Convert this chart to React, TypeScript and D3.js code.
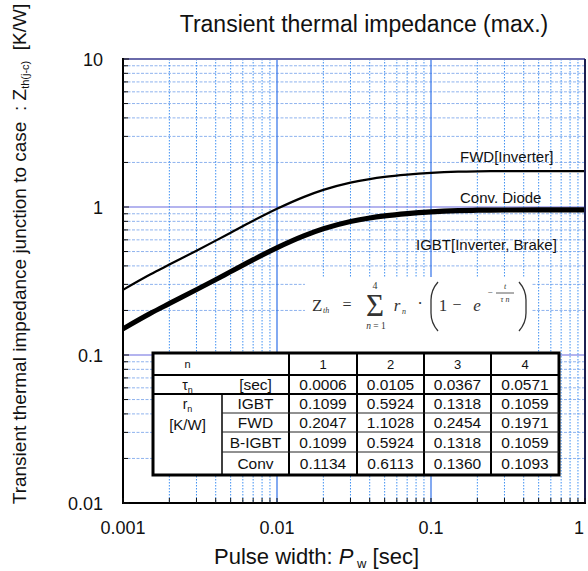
import React from 'react';
import * as d3 from 'd3';

const pulseWidths = [0.001, 0.0015, 0.002, 0.003, 0.004, 0.005, 0.007, 0.01, 0.015, 0.02, 0.03, 0.04, 0.05, 0.07, 0.1, 0.15, 0.2, 0.3, 0.5, 1];
const zthIGBT = [0.148, 0.1878, 0.2193, 0.2722, 0.3183, 0.36, 0.4333, 0.5221, 0.629, 0.7008, 0.7852, 0.83, 0.857, 0.8885, 0.913, 0.9301, 0.9362, 0.9394, 0.94, 0.94];
const zthFWD = [0.2756, 0.3497, 0.4083, 0.5068, 0.5927, 0.6703, 0.8068, 0.9721, 1.171, 1.305, 1.462, 1.545, 1.596, 1.654, 1.7, 1.732, 1.743, 1.749, 1.75, 1.75];
const zthConv = [0.1527, 0.1938, 0.2263, 0.2809, 0.3284, 0.3714, 0.4471, 0.5387, 0.649, 0.7231, 0.8102, 0.8564, 0.8843, 0.9168, 0.942, 0.9597, 0.966, 0.9693, 0.97, 0.97];

const xTickValues = [0.001, 0.01, 0.1, 1];
const xTickLabels = ['0.001', '0.01', '0.1', '1'];
const yTickValues = [0.01, 0.1, 1, 10];
const yTickLabels = ['0.01', '0.1', '1', '10'];

const tableColumns = ['1', '2', '3', '4'];
const tauN = ['0.0006', '0.0105', '0.0367', '0.0571'];
const rowNames = ['IGBT', 'FWD', 'B-IGBT', 'Conv'];
const rIGBT = ['0.1099', '0.5924', '0.1318', '0.1059'];
const rFWD = ['0.2047', '1.1028', '0.2454', '0.1971'];
const rBIGBT = ['0.1099', '0.5924', '0.1318', '0.1059'];
const rConv = ['0.1134', '0.6113', '0.1360', '0.1093'];

const SANS = "'Liberation Sans', Arial, sans-serif";
const SERIF = "'Liberation Serif', 'Times New Roman', serif";

export default function App() {
  const W = 588, H = 571;
  const L = 123, R = 585, T = 59, B = 503;
  const x = d3.scaleLog().domain([0.001, 1]).range([L, R]);
  const y = d3.scaleLog().domain([0.01, 10]).range([B, T]);
  const xt = x.ticks();
  const yt = y.ticks();
  const isDecade = (v: number) => Math.abs(Math.log10(v) - Math.round(Math.log10(v))) < 1e-6;

  const line = d3.line<number>()
    .x((_, i) => x(pulseWidths[i]))
    .y((d) => y(d))
    .curve(d3.curveMonotoneX);

  const colX = [153, 222, 289, 357, 424, 491, 559];
  const rowY = [353, 375, 394, 413, 432, 452, 475];
  const rows = [rIGBT, rFWD, rBIGBT, rConv];
  const cx = (i: number) => (colX[i] + colX[i + 1]) / 2;
  const cy = (i: number) => (rowY[i] + rowY[i + 1]) / 2;

  return (
    <svg width={W} height={H} style={{ position: 'absolute', left: 0, top: 0, background: '#fff' }}>
      <rect x={0} y={0} width={W} height={H} fill="#fff" />
      {/* horizontal grid */}
      {yt.filter((v) => !isDecade(v)).map((v, i) => (
        <line key={'hy' + i} x1={L} x2={R} y1={y(v)} y2={y(v)} stroke="#8fb3ee" strokeWidth={1} strokeDasharray="3 1.5" />
      ))}
      {[0.1, 1].map((v, i) => (
        <line key={'hM' + i} x1={L} x2={R} y1={y(v)} y2={y(v)} stroke="#6b6be0" strokeWidth={1.2} />
      ))}
      {/* vertical grid */}
      {xt.filter((v) => !isDecade(v)).map((v, i) => (
        <line key={'vx' + i} x1={x(v)} x2={x(v)} y1={T} y2={B} stroke="#3f90f2" strokeWidth={1} strokeDasharray="1.5 1.5" />
      ))}
      {[0.01, 0.1].map((v, i) => (
        <line key={'vM' + i} x1={x(v)} x2={x(v)} y1={T} y2={B} stroke="#3070e8" strokeWidth={1.2} />
      ))}

      {/* formula box */}
      <rect x={305} y={277} width={226} height={76} fill="#fff" />
      <g fontFamily={SERIF} fill="#333">
        <text x={312} y={311} fontSize={17}>Z</text>
        <text x={323} y={313} fontSize={8} fontStyle="italic">th</text>
        <text x={347} y={310} fontSize={16} textAnchor="middle">=</text>
        <text x={375} y={316} fontSize={31} textAnchor="middle">Σ</text>
        <text x={375} y={289} fontSize={10} textAnchor="middle">4</text>
        <text x={376} y={329} fontSize={9.5} textAnchor="middle"><tspan fontStyle="italic">n</tspan> = 1</text>
        <text x={397} y={311} fontSize={17} fontStyle="italic" textAnchor="middle">r</text>
        <text x={402} y={314} fontSize={8} fontStyle="italic">n</text>
        <text x={420} y={309} fontSize={17} textAnchor="middle">·</text>
        <path d="M438,282 Q431,290 431,300 L431,313 Q431,323 438,331" fill="none" stroke="#333" strokeWidth={1.3} />
        <path d="M519,282 Q526,290 526,300 L526,313 Q526,323 519,331" fill="none" stroke="#333" strokeWidth={1.3} />
        <text x={443} y={311} fontSize={17} textAnchor="middle">1</text>
        <text x={457} y={310} fontSize={16} textAnchor="middle">−</text>
        <text x={477} y={311} fontSize={17} fontStyle="italic" textAnchor="middle">e</text>
        <text x={490} y={295} fontSize={9} textAnchor="middle">−</text>
        <text x={505} y={289} fontSize={8} fontStyle="italic" textAnchor="middle">t</text>
        <line x1={496} x2={514} y1={293} y2={293} stroke="#333" strokeWidth={0.8} />
        <text x={505} y={302} fontSize={8} fontStyle="italic" textAnchor="middle">τ  n</text>
      </g>

      {/* table */}
      <g fontFamily={SANS} fill="#111">
        <rect x={colX[0]} y={rowY[0]} width={colX[6] - colX[0]} height={rowY[6] - rowY[0]} fill="#fff" stroke="#000" strokeWidth={3} />
        <line x1={colX[1]} x2={colX[1]} y1={rowY[2]} y2={rowY[6]} stroke="#000" strokeWidth={1.5} />
        {[2, 3, 4, 5].map((c) => (
          <line key={'tc' + c} x1={colX[c]} x2={colX[c]} y1={rowY[0]} y2={rowY[6]} stroke="#000" strokeWidth={2} />
        ))}
        {[1, 2].map((r) => (
          <line key={'tr' + r} x1={colX[0]} x2={colX[6]} y1={rowY[r]} y2={rowY[r]} stroke="#000" strokeWidth={2} />
        ))}
        {[3, 4, 5].map((r) => (
          <line key={'ts' + r} x1={colX[1]} x2={colX[6]} y1={rowY[r]} y2={rowY[r]} stroke="#222" strokeWidth={1} />
        ))}
        <text x={cx(0)} y={cy(0) + 4} fontSize={11} textAnchor="middle">n</text>
        {tableColumns.map((c, i) => (
          <text key={'hc' + i} x={cx(i + 2)} y={cy(0) + 5} fontSize={13} textAnchor="middle">{c}</text>
        ))}
        <text x={cx(0)} y={cy(1) + 5} fontSize={14} textAnchor="middle">τ<tspan fontSize={9} dy={3}>n</tspan></text>
        <text x={cx(1)} y={cy(1) + 5.5} fontSize={15.5} textAnchor="middle">[sec]</text>
        {tauN.map((v, i) => (
          <text key={'tau' + i} x={cx(i + 2)} y={cy(1) + 5.5} fontSize={15.5} textAnchor="middle">{v}</text>
        ))}
        <text x={cx(0)} y={409} fontSize={14} textAnchor="middle">r<tspan fontSize={9} dy={3}>n</tspan></text>
        <text x={cx(0)} y={430} fontSize={15} textAnchor="middle">[K/W]</text>
        {rows.map((vals, r) => (
          <g key={'row' + r}>
            <text x={cx(1)} y={cy(r + 2) + 5.5} fontSize={15.5} textAnchor="middle">{rowNames[r]}</text>
            {vals.map((v, i) => (
              <text key={i} x={cx(i + 2)} y={cy(r + 2) + 5.5} fontSize={15.5} textAnchor="middle">{v}</text>
            ))}
          </g>
        ))}
      </g>

      {/* curves */}
      <path d={line(zthFWD) || ''} fill="none" stroke="#000" strokeWidth={2.2} />
      <path d={line(zthIGBT) || ''} fill="none" stroke="#000" strokeWidth={3.2} />
      <path d={line(zthConv) || ''} fill="none" stroke="#000" strokeWidth={3.2} />

      {/* curve labels */}
      <g fontFamily={SANS} fontSize={15} fill="#111">
        <text x={460} y={162}>FWD[Inverter]</text>
        <text x={460} y={203}>Conv. Diode</text>
        <text x={416} y={250}>IGBT[Inverter, Brake]</text>
      </g>

      {/* frame */}
      <line x1={L} x2={R} y1={T} y2={T} stroke="#6a6aaa" strokeWidth={2} />
      <line x1={R} x2={R} y1={T} y2={B} stroke="#1c2050" strokeWidth={2} />
      <line x1={L} x2={L} y1={T - 1} y2={B + 1} stroke="#000" strokeWidth={2} />
      <line x1={L - 1} x2={R + 1} y1={B} y2={B} stroke="#000" strokeWidth={2} />
      {yt.map((v, i) => (
        <line key={'yk' + i} x1={L} x2={L + (isDecade(v) ? 6 : 5)} y1={y(v)} y2={y(v)} stroke="#111" strokeWidth={1} />
      ))}
      {xt.map((v, i) => (
        <line key={'xk' + i} x1={x(v)} x2={x(v)} y1={B} y2={B - 5} stroke="#111" strokeWidth={1} />
      ))}

      {/* tick labels */}
      <g fontFamily={SANS} fontSize={18} fill="#111">
        {yTickValues.map((v, i) => (
          <text key={'yl' + i} x={103} y={y(v) + 6.5} textAnchor="end">{yTickLabels[i]}</text>
        ))}
        {xTickValues.map((v, i) => (
          <text key={'xl' + i} x={Math.min(x(v), 579)} y={534} textAnchor="middle">{xTickLabels[i]}</text>
        ))}
      </g>

      {/* titles */}
      <text x={364} y={32} fontFamily={SANS} fontSize={23} textAnchor="middle" fill="#111">Transient thermal impedance (max.)</text>
      <text x={214} y={564} fontFamily={SANS} fontSize={22} fill="#111" style={{ whiteSpace: 'pre' }}>
        Pulse width: <tspan fontStyle="italic">P</tspan><tspan fontSize={13} dy={4}> w</tspan><tspan dy={-4}> [sec]</tspan>
      </text>
      <text transform="translate(26,254) rotate(-90)" textAnchor="middle" fontFamily={SANS} fontSize={19} fill="#111" style={{ whiteSpace: 'pre' }}>
        Transient thermal impedance junction to case  : Z<tspan fontSize={11} dy={3}>th(j-c)</tspan><tspan dy={-3}>  [K/W]</tspan>
      </text>
    </svg>
  );
}
